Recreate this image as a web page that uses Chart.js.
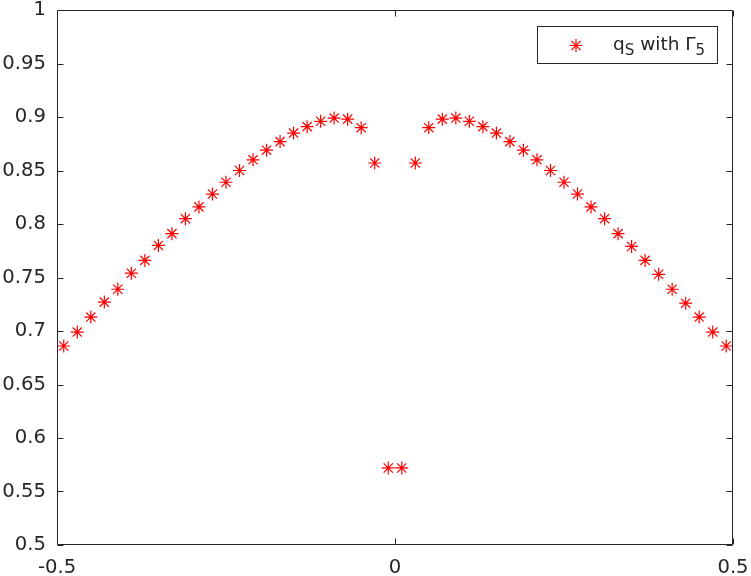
<!DOCTYPE html>
<html><head><meta charset="utf-8">
<script src="https://cdn.jsdelivr.net/npm/chart.js@4"></script>
<style>html,body{margin:0;padding:0;background:#fff}</style>
</head><body>
<canvas id="c" width="751" height="576" style="display:block;width:751px;height:576px"></canvas>
<script>
// ---- data ----
const xValues = [-0.49,-0.47,-0.45,-0.43,-0.41,-0.39,-0.37,-0.35,-0.33,-0.31,-0.29,-0.27,-0.25,-0.23,-0.21,-0.19,-0.17,-0.15,-0.13,-0.11,-0.09,-0.07,-0.05,-0.03,-0.01,
                 0.01,0.03,0.05,0.07,0.09,0.11,0.13,0.15,0.17,0.19,0.21,0.23,0.25,0.27,0.29,0.31,0.33,0.35,0.37,0.39,0.41,0.43,0.45,0.47,0.49];
const qSValues = [0.686,0.699,0.713,0.727,0.739,0.754,0.766,0.780,0.791,0.805,0.816,0.828,0.839,0.850,0.860,0.869,0.877,0.885,0.891,0.896,0.899,0.898,0.890,0.857,0.572,
                  0.572,0.857,0.890,0.898,0.899,0.896,0.891,0.885,0.877,0.869,0.860,0.850,0.839,0.828,0.816,0.805,0.791,0.779,0.766,0.753,0.739,0.726,0.713,0.699,0.686];
const xTickValues = [-0.5, 0, 0.5];
const yTickValues = [0.5, 0.55, 0.6, 0.65, 0.7, 0.75, 0.8, 0.85, 0.9, 0.95, 1];
const legendParts = [["q", false], ["S", true], [" with ", false], ["\u0393", false], ["5", true]];

const AX = '#262626';
const FONT = 'DejaVu Sans';

const noPad = s => { s.paddingTop = 0; s.paddingBottom = 0; s.paddingLeft = 0; s.paddingRight = 0; };

const boxPlugin = {
  id: 'boxPlugin',
  afterDraw(chart) {
    const ctx = chart.ctx, a = chart.chartArea;
    const xs = chart.scales.x, ys = chart.scales.y;
    const L = Math.round(a.left) + 0.5, R = Math.round(a.right) - 0.5;
    const T = Math.round(a.top) + 0.5, B = Math.round(a.bottom) - 0.5;
    ctx.save();
    ctx.strokeStyle = AX; ctx.lineWidth = 1;
    ctx.beginPath();
    ctx.rect(L, T, R - L, B - T);
    const tl = 6;
    yTickValues.forEach(v => {
      const py = Math.round(ys.getPixelForValue(v)) + 0.5;
      ctx.moveTo(L, py); ctx.lineTo(L + tl, py);
      ctx.moveTo(R, py); ctx.lineTo(R - tl, py);
    });
    xTickValues.forEach(v => {
      const px = Math.round(xs.getPixelForValue(v)) + 0.5;
      ctx.moveTo(px, B); ctx.lineTo(px, B - tl);
      ctx.moveTo(px, T); ctx.lineTo(px, T + tl);
    });
    ctx.stroke();

    // legend
    const lx = 537.5, ly = 26.5, lw = 180, lh = 37;
    ctx.fillStyle = '#fff';
    ctx.fillRect(lx, ly, lw, lh);
    ctx.strokeRect(lx, ly, lw, lh);
    const ds = chart.data.datasets[0];
    ctx.strokeStyle = ds.borderColor; ctx.fillStyle = ds.backgroundColor; ctx.lineWidth = 1.2;
    Chart.helpers.drawPoint(ctx, {pointStyle: 'star', radius: 6.5, rotation: 0, borderWidth: 1.2}, 576, 45.5);
    let tx = 613;
    const base = 50;
    ctx.fillStyle = AX;
    ctx.textBaseline = 'alphabetic';
    ctx.textAlign = 'left';
    legendParts.forEach(([s, sub]) => {
      ctx.font = (sub ? '15px ' : '18.5px ') + '"' + FONT + '"';
      ctx.fillText(s, tx, sub ? base + 5 : base);
      tx += ctx.measureText(s).width;
    });
    ctx.restore();
  }
};

new Chart(document.getElementById('c'), {
  type: 'scatter',
  data: {
    datasets: [{
      label: 'qS with \u03935',
      data: xValues.map((x, i) => ({x: x, y: qSValues[i]})),
      showLine: false,
      pointStyle: 'star',
      pointRadius: 6.5,
      pointHoverRadius: 6.5,
      borderColor: '#ff0000',
      backgroundColor: '#ff0000',
      borderWidth: 1.2
    }]
  },
  options: {
    responsive: false,
    animation: false,
    devicePixelRatio: 1,
    layout: {padding: {top: 10, right: 18, left: 0, bottom: 0}},
    plugins: {legend: {display: false}, tooltip: {enabled: false}},
    scales: {
      x: {
        type: 'linear', min: -0.5, max: 0.5,
        grid: {display: false, drawTicks: false},
        border: {display: false},
        afterBuildTicks: s => { s.ticks = xTickValues.map(v => ({value: v})); },
        afterFit: s => { s.height = 31; noPad(s); },
        ticks: {color: AX, font: {family: FONT, size: 19.6}, padding: 11, maxRotation: 0, autoSkip: false,
                callback: v => String(v)}
      },
      y: {
        type: 'linear', min: 0.5, max: 1,
        grid: {display: false, drawTicks: false},
        border: {display: false},
        afterBuildTicks: s => { s.ticks = yTickValues.map(v => ({value: v})); },
        afterFit: s => { s.width = 57; noPad(s); },
        ticks: {color: AX, font: {family: FONT, size: 19.6}, padding: 11, autoSkip: false,
                callback: v => String(v)}
      }
    }
  },
  plugins: [boxPlugin]
});
</script>
</body></html>
